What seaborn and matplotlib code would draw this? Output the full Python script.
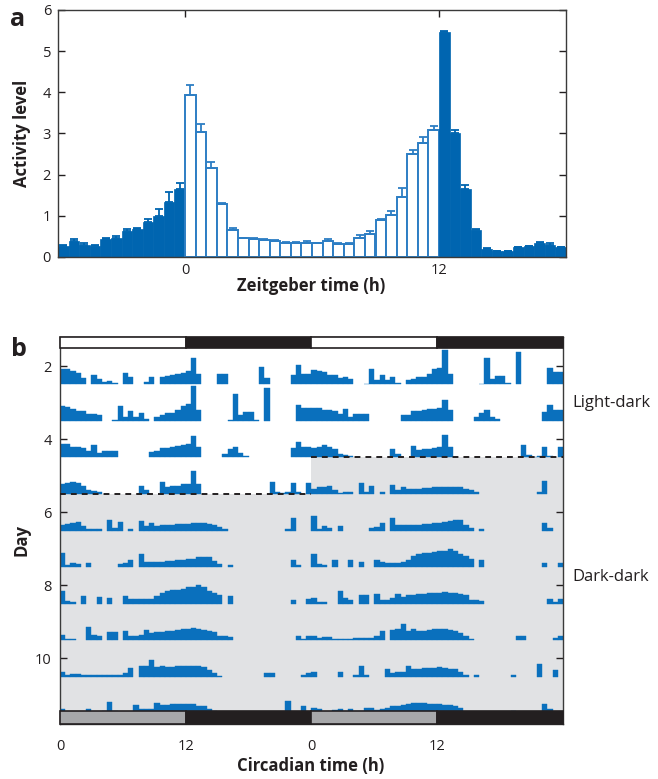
import numpy as np
import pandas as pd
import matplotlib
matplotlib.use("Agg")
import matplotlib.pyplot as plt
import seaborn as sns

sns.set_style("ticks")
plt.rcParams["font.family"] = ["Open Sans", "DejaVu Sans"]

# ---- panel a: mean activity per half-hour bin (Zeitgeber time) ----
zt_dark_pre = np.arange(-6, 0, 0.5)
zt_light = np.arange(0, 12, 0.5)
zt_dark_post = np.arange(12, 18, 0.5)

act_dark_pre = [0.27, 0.40, 0.28, 0.27, 0.43, 0.47, 0.63, 0.69, 0.85, 0.99, 1.34, 1.65]
err_dark_pre = [0.02, 0.03, 0.06, 0.01, 0.02, 0.03, 0.06, 0.02, 0.08, 0.17, 0.23, 0.15]

act_light = [3.93, 3.04, 2.15, 1.28, 0.66, 0.45, 0.43, 0.42, 0.38, 0.35, 0.34, 0.35,
             0.33, 0.38, 0.31, 0.31, 0.47, 0.57, 0.89, 1.03, 1.46, 2.50, 2.77, 3.08]
err_light = [0.25, 0.20, 0.15, 0.03, 0.05, 0.02, 0.02, 0.02, 0.03, 0.02, 0.02, 0.03,
             0.02, 0.05, 0.02, 0.02, 0.06, 0.06, 0.04, 0.08, 0.22, 0.10, 0.15, 0.10]

act_dark_post = [5.47, 3.02, 1.65, 0.66, 0.20, 0.14, 0.14, 0.24, 0.26, 0.34, 0.28, 0.24]
err_dark_post = [0.03, 0.06, 0.10, 0.01, 0.01, 0.01, 0.01, 0.01, 0.01, 0.03, 0.07, 0.01]

# ---- panel b: actogram, one list of half-hour bins per day ----
day_01 = [0.43, 0.43, 0.36, 0.32, 0.18, 0.00, 0.26, 0.15, 0.06, 0.10, 0.04, 0.00,
          0.31, 0.20, 0.00, 0.00, 0.06, 0.20, 0.00, 0.20, 0.22, 0.25, 0.28, 0.31,
          0.38, 0.72, 0.28, 0.00, 0.00, 0.00, 0.28, 0.28, 0.00, 0.00, 0.00, 0.00,
          0.00, 0.00, 0.48, 0.18, 0.00, 0.00, 0.00, 0.00, 0.25, 0.52, 0.30, 0.30]
day_02 = [0.40, 0.37, 0.33, 0.26, 0.26, 0.18, 0.20, 0.15, 0.00, 0.00, 0.02, 0.42,
          0.12, 0.26, 0.12, 0.21, 0.05, 0.00, 0.12, 0.15, 0.21, 0.21, 0.30, 0.42,
          0.46, 0.95, 0.30, 0.00, 0.00, 0.00, 0.00, 0.00, 0.02, 0.73, 0.16, 0.24,
          0.24, 0.03, 0.00, 0.90, 0.00, 0.00, 0.00, 0.00, 0.00, 0.44, 0.35, 0.35]
day_03 = [0.36, 0.36, 0.30, 0.30, 0.27, 0.18, 0.33, 0.12, 0.18, 0.18, 0.18, 0.00,
          0.00, 0.00, 0.00, 0.00, 0.00, 0.15, 0.17, 0.27, 0.27, 0.30, 0.32, 0.34,
          0.36, 0.58, 0.30, 0.00, 0.00, 0.00, 0.00, 0.10, 0.22, 0.30, 0.12, 0.05,
          0.00, 0.00, 0.00, 0.00, 0.00, 0.00, 0.00, 0.00, 0.25, 0.43, 0.30, 0.30]
day_04 = [0.27, 0.30, 0.33, 0.30, 0.22, 0.10, 0.08, 0.05, 0.00, 0.00, 0.00, 0.00,
          0.00, 0.00, 0.00, 0.22, 0.10, 0.00, 0.00, 0.32, 0.20, 0.23, 0.23, 0.27,
          0.28, 0.62, 0.28, 0.00, 0.00, 0.00, 0.00, 0.00, 0.00, 0.00, 0.00, 0.00,
          0.00, 0.00, 0.00, 0.00, 0.34, 0.06, 0.02, 0.05, 0.30, 0.05, 0.00, 0.30]
day_05 = [0.15, 0.18, 0.20, 0.22, 0.12, 0.03, 0.05, 0.05, 0.00, 0.30, 0.06, 0.22,
          0.00, 0.05, 0.00, 0.25, 0.12, 0.20, 0.13, 0.14, 0.15, 0.16, 0.17, 0.18,
          0.19, 0.20, 0.20, 0.20, 0.18, 0.14, 0.10, 0.05, 0.00, 0.00, 0.00, 0.00,
          0.00, 0.00, 0.00, 0.00, 0.00, 0.00, 0.00, 0.05, 0.35, 0.00, 0.00, 0.00]
day_06 = [0.39, 0.05, 0.12, 0.07, 0.00, 0.12, 0.00, 0.00, 0.00, 0.00, 0.00, 0.08,
          0.10, 0.20, 0.00, 0.35, 0.14, 0.14, 0.14, 0.15, 0.16, 0.17, 0.18, 0.20,
          0.21, 0.23, 0.27, 0.28, 0.28, 0.16, 0.08, 0.00, 0.05, 0.00, 0.00, 0.00,
          0.00, 0.00, 0.00, 0.00, 0.00, 0.00, 0.00, 0.00, 0.20, 0.06, 0.00, 0.00]
day_07 = [0.35, 0.07, 0.05, 0.00, 0.20, 0.00, 0.00, 0.18, 0.00, 0.15, 0.00, 0.00,
          0.20, 0.13, 0.12, 0.12, 0.12, 0.13, 0.20, 0.30, 0.35, 0.38, 0.38, 0.40,
          0.44, 0.45, 0.50, 0.45, 0.35, 0.30, 0.22, 0.00, 0.20, 0.00, 0.00, 0.00,
          0.00, 0.00, 0.00, 0.00, 0.00, 0.00, 0.00, 0.00, 0.10, 0.00, 0.00, 0.12]
day_08 = [0.15, 0.03, 0.03, 0.00, 0.00, 0.35, 0.15, 0.10, 0.00, 0.23, 0.23, 0.00,
          0.25, 0.10, 0.10, 0.15, 0.27, 0.18, 0.22, 0.22, 0.25, 0.25, 0.28, 0.30,
          0.30, 0.32, 0.30, 0.28, 0.25, 0.22, 0.10, 0.10, 0.08, 0.00, 0.00, 0.00,
          0.00, 0.00, 0.00, 0.00, 0.00, 0.00, 0.00, 0.00, 0.00, 0.12, 0.04, 0.12]
day_09 = [0.12, 0.05, 0.08, 0.08, 0.03, 0.03, 0.03, 0.03, 0.05, 0.05, 0.05, 0.05,
          0.10, 0.24, 0.00, 0.28, 0.30, 0.45, 0.25, 0.30, 0.25, 0.25, 0.28, 0.30,
          0.30, 0.30, 0.28, 0.25, 0.18, 0.10, 0.02, 0.00, 0.00, 0.00, 0.00, 0.00,
          0.00, 0.00, 0.00, 0.10, 0.10, 0.00, 0.00, 0.00, 0.00, 0.00, 0.05, 0.10]
day_10 = [0.12, 0.00, 0.00, 0.00, 0.00, 0.12, 0.00, 0.00, 0.05, 0.30, 0.05, 0.00,
          0.00, 0.00, 0.22, 0.10, 0.12, 0.12, 0.28, 0.22, 0.22, 0.24, 0.24, 0.24,
          0.25, 0.24, 0.20, 0.20, 0.12, 0.05, 0.00, 0.04, 0.00, 0.00, 0.00, 0.00,
          0.00, 0.00, 0.04, 0.00, 0.00, 0.00, 0.00, 0.33, 0.00, 0.00, 0.18, 0.00]
day_11 = [0.13, 0.10, 0.03, 0.00, 0.08, 0.10, 0.05, 0.12, 0.06, 0.06, 0.14, 0.15,
          0.08, 0.12, 0.13, 0.18, 0.20, 0.22, 0.25, 0.28, 0.28, 0.27, 0.26, 0.25,
          0.24, 0.23, 0.22, 0.20, 0.15, 0.00, 0.00, 0.00, 0.00, 0.00, 0.00, 0.00,
          0.00, 0.00, 0.05, 0.00, 0.00, 0.00, 0.00, 0.00, 0.25, 0.10, 0.00, 0.00]
days = [day_01, day_02, day_03, day_04, day_05, day_06,
        day_07, day_08, day_09, day_10, day_11]

ld_starts = [0, 12, 24, 36]
top_bar_colors = ["white", "#231f20", "white", "#231f20"]
bottom_bar_colors = ["#a7a8aa", "#231f20", "#a7a8aa", "#231f20"]
ct_ticks = [0, 12, 24, 36]
ct_labels = ["0", "12", "0", "12"]
dd_start_left = 5.5   # day row where constant darkness begins (left half)
dd_start_right = 4.5  # same boundary, right half of double plot

BLUE = "#0065b0"
EDGE = "#2d7ec4"
ACT = "#0a70bd"
GRAY = "#e1e2e4"
INK = "#231f20"

fig = plt.figure(figsize=(6.58, 7.79), dpi=100)

# ================= panel a =================
ax_a = fig.add_axes([58 / 658, 1 - 257 / 779, 508 / 658, 247 / 779])

bw = 0.5
pre_df = pd.DataFrame({"zt": zt_dark_pre + bw / 2, "act": act_dark_pre})
light_df = pd.DataFrame({"zt": zt_light + bw / 2, "act": act_light})
post_df = pd.DataFrame({"zt": zt_dark_post + bw / 2, "act": act_dark_post})

sns.histplot(data=pre_df, x="zt", weights="act",
             bins=list(np.arange(-6, 0.01, bw)), color=BLUE, edgecolor=BLUE,
             linewidth=0.5, alpha=1, ax=ax_a)
sns.histplot(data=light_df, x="zt", weights="act",
             bins=list(np.arange(0, 12.01, bw)), color="white", edgecolor=EDGE,
             linewidth=1.4, alpha=1, ax=ax_a)
sns.histplot(data=post_df, x="zt", weights="act",
             bins=list(np.arange(12, 18.01, bw)), color=BLUE, edgecolor=BLUE,
             linewidth=0.5, alpha=1, ax=ax_a)

for xs, ys, es, col in [(zt_dark_pre, act_dark_pre, err_dark_pre, BLUE),
                        (zt_light, act_light, err_light, EDGE),
                        (zt_dark_post, act_dark_post, err_dark_post, BLUE)]:
    ax_a.errorbar(xs + bw / 2, ys, yerr=[np.zeros(len(es)), es], fmt="none",
                  ecolor=col, elinewidth=1.3, capsize=3, capthick=1.3, zorder=5)

ax_a.set_xlim(-6, 18)
ax_a.set_ylim(0, 6)
ax_a.set_xticks([0, 12])
ax_a.set_yticks(range(0, 7))
ax_a.tick_params(direction="in", top=True, right=True, labelsize=10.5,
                 length=5, width=1, colors=INK, pad=4)
ax_a.tick_params(axis="y", labelright=False, pad=5)
ax_a.set_xlabel("")
ax_a.set_ylabel("")
for s in ax_a.spines.values():
    s.set_color("#3a3a3a")
    s.set_linewidth(1)

# ================= panel b =================
ax_b = fig.add_axes([60 / 658, 1 - 724 / 779, 503 / 658, 387 / 779])
ax_b.set_xlim(0, 48)
ax_b.set_ylim(11.8, 1.2)

ax_b.fill_between([0, 24], dd_start_left, 11.45, color=GRAY, lw=0, zorder=0)
ax_b.fill_between([24, 48], dd_start_right, 11.45, color=GRAY, lw=0, zorder=0)

bins48 = np.arange(0, 48, bw)
for r in range(len(days) - 1):
    base = r + 2.5
    h = np.concatenate([days[r], days[r + 1]])
    on = h > 0
    ax_b.bar(bins48[on], -h[on], bottom=base, width=bw, align="edge",
             color=ACT, edgecolor=ACT, linewidth=0.3, zorder=2)

ax_b.plot([0, 24], [dd_start_left] * 2, color=INK, lw=1.4,
          ls=(0, (3, 2.6)), zorder=3)
ax_b.plot([24, 48], [dd_start_right] * 2, color=INK, lw=1.4,
          ls=(0, (3, 2.6)), zorder=3)

ax_b.barh(1.35, 12, left=ld_starts, height=0.3, color=top_bar_colors,
          edgecolor=INK, linewidth=1.2, zorder=4, clip_on=False)
ax_b.barh(11.625, 12, left=ld_starts, height=0.35, color=bottom_bar_colors,
          edgecolor=INK, linewidth=1.2, zorder=4, clip_on=False)

ax_b.set_xticks(ct_ticks)
ax_b.set_xticklabels(ct_labels)
ax_b.set_yticks([2, 4, 6, 8, 10])
ax_b.tick_params(axis="x", length=0, labelsize=10.5, colors=INK, pad=11)
ax_b.tick_params(axis="y", direction="in", left=True, right=True,
                 length=5, width=1, labelsize=10.5, colors=INK, pad=6)
for s in ax_b.spines.values():
    s.set_color("#3a3a3a")
    s.set_linewidth(1)

# ================= text =================
fig.text(18 / 658, 1 - 19 / 779, "a", fontsize=18, fontweight="bold",
         ha="center", va="center", color=INK)
fig.text(19 / 658, 1 - 350 / 779, "b", fontsize=18, fontweight="bold",
         ha="center", va="center", color=INK)
fig.text(22 / 658, 1 - 133 / 779, "Activity level", rotation=90,
         fontsize=12, fontweight="bold", ha="center", va="center", color=INK)
fig.text(22 / 658, 1 - 540 / 779, "Day", rotation=90,
         fontsize=12, fontweight="bold", ha="center", va="center", color=INK)
fig.text(311 / 658, 1 - 286 / 779, "Zeitgeber time (h)",
         fontsize=12, fontweight="bold", ha="center", va="center", color=INK)
fig.text(311 / 658, 1 - 766 / 779, "Circadian time (h)",
         fontsize=12, fontweight="bold", ha="center", va="center", color=INK)
fig.text(572 / 658, 1 - 403 / 779, "Light-dark", fontsize=12,
         ha="left", va="center", color=INK)
fig.text(572 / 658, 1 - 577 / 779, "Dark-dark", fontsize=12,
         ha="left", va="center", color=INK)

fig.savefig("out.png", dpi=100)
